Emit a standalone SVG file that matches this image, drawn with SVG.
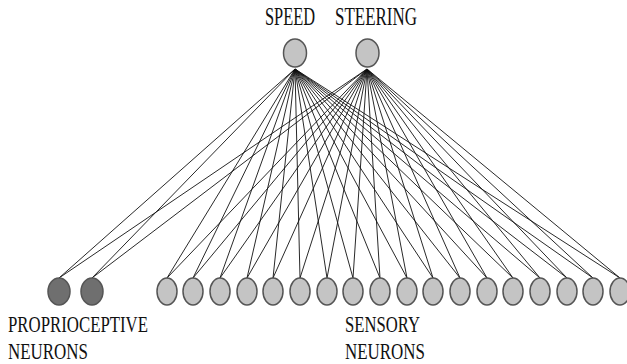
<svg xmlns="http://www.w3.org/2000/svg" width="627" height="364" viewBox="0 0 627 364">
<style>
.c line{stroke:#111;stroke-width:0.9}
.n ellipse{stroke:#555;stroke-width:1.5}
.out ellipse,.sen ellipse{fill:#c4c4c4}
.pro ellipse{fill:#6f6f6f}
text{font-family:"Liberation Serif","Times New Roman",serif;font-size:17px;fill:#111}
</style>
<rect width="627" height="364" fill="#fff"/>
<g id="connectors" class="c">
<line x1="295" y1="69" x2="59" y2="278"/><line x1="367" y1="69" x2="59" y2="278"/>
<line x1="295" y1="69" x2="92" y2="278"/><line x1="367" y1="69" x2="92" y2="278"/>
<line x1="295" y1="69" x2="167" y2="278"/><line x1="367" y1="69" x2="167" y2="278"/>
<line x1="295" y1="69" x2="193" y2="278"/><line x1="367" y1="69" x2="193" y2="278"/>
<line x1="295" y1="69" x2="220" y2="278"/><line x1="367" y1="69" x2="220" y2="278"/>
<line x1="295" y1="69" x2="247" y2="278"/><line x1="367" y1="69" x2="247" y2="278"/>
<line x1="295" y1="69" x2="273" y2="278"/><line x1="367" y1="69" x2="273" y2="278"/>
<line x1="295" y1="69" x2="300" y2="278"/><line x1="367" y1="69" x2="300" y2="278"/>
<line x1="295" y1="69" x2="327" y2="278"/><line x1="367" y1="69" x2="327" y2="278"/>
<line x1="295" y1="69" x2="353" y2="278"/><line x1="367" y1="69" x2="353" y2="278"/>
<line x1="295" y1="69" x2="380" y2="278"/><line x1="367" y1="69" x2="380" y2="278"/>
<line x1="295" y1="69" x2="407" y2="278"/><line x1="367" y1="69" x2="407" y2="278"/>
<line x1="295" y1="69" x2="433" y2="278"/><line x1="367" y1="69" x2="433" y2="278"/>
<line x1="295" y1="69" x2="460" y2="278"/><line x1="367" y1="69" x2="460" y2="278"/>
<line x1="295" y1="69" x2="487" y2="278"/><line x1="367" y1="69" x2="487" y2="278"/>
<line x1="295" y1="69" x2="513" y2="278"/><line x1="367" y1="69" x2="513" y2="278"/>
<line x1="295" y1="69" x2="540" y2="278"/><line x1="367" y1="69" x2="540" y2="278"/>
<line x1="295" y1="69" x2="567" y2="278"/><line x1="367" y1="69" x2="567" y2="278"/>
<line x1="295" y1="69" x2="593" y2="278"/><line x1="367" y1="69" x2="593" y2="278"/>
<line x1="295" y1="69" x2="620" y2="278"/><line x1="367" y1="69" x2="620" y2="278"/>
</g>
<g id="speed" class="n out"><ellipse cx="295" cy="53" rx="11.5" ry="14"/><text transform="translate(265 25) scale(1 1.5)" textLength="50" lengthAdjust="spacingAndGlyphs">SPEED</text></g>
<g id="steering" class="n out"><ellipse cx="367.5" cy="53" rx="11.5" ry="14"/><text transform="translate(335 25) scale(1 1.5)" textLength="82" lengthAdjust="spacingAndGlyphs">STEERING</text></g>
<g id="proprioceptive" class="n pro">
<ellipse cx="59" cy="291.5" rx="11" ry="13.5"/><ellipse cx="92" cy="291.5" rx="11" ry="13.5"/>
</g>
<g id="sensory" class="n sen">
<ellipse cx="167" cy="291.5" rx="10" ry="13.5"/><ellipse cx="193" cy="291.5" rx="10" ry="13.5"/>
<ellipse cx="220" cy="291.5" rx="10" ry="13.5"/><ellipse cx="247" cy="291.5" rx="10" ry="13.5"/>
<ellipse cx="273" cy="291.5" rx="10" ry="13.5"/><ellipse cx="300" cy="291.5" rx="10" ry="13.5"/>
<ellipse cx="327" cy="291.5" rx="10" ry="13.5"/><ellipse cx="353" cy="291.5" rx="10" ry="13.5"/>
<ellipse cx="380" cy="291.5" rx="10" ry="13.5"/><ellipse cx="407" cy="291.5" rx="10" ry="13.5"/>
<ellipse cx="433" cy="291.5" rx="10" ry="13.5"/><ellipse cx="460" cy="291.5" rx="10" ry="13.5"/>
<ellipse cx="487" cy="291.5" rx="10" ry="13.5"/><ellipse cx="513" cy="291.5" rx="10" ry="13.5"/>
<ellipse cx="540" cy="291.5" rx="10" ry="13.5"/><ellipse cx="567" cy="291.5" rx="10" ry="13.5"/>
<ellipse cx="593" cy="291.5" rx="10" ry="13.5"/><ellipse cx="620" cy="291.5" rx="10" ry="13.5"/>
</g>
<g id="label-proprioceptive">
<text transform="translate(8 332) scale(1 1.4)" textLength="140" lengthAdjust="spacingAndGlyphs">PROPRIOCEPTIVE</text>
<text transform="translate(8 358.5) scale(1 1.4)" textLength="80" lengthAdjust="spacingAndGlyphs">NEURONS</text>
</g>
<g id="label-sensory">
<text transform="translate(345 332) scale(1 1.4)" textLength="75" lengthAdjust="spacingAndGlyphs">SENSORY</text>
<text transform="translate(345 358.5) scale(1 1.4)" textLength="80" lengthAdjust="spacingAndGlyphs">NEURONS</text>
</g>
</svg>
